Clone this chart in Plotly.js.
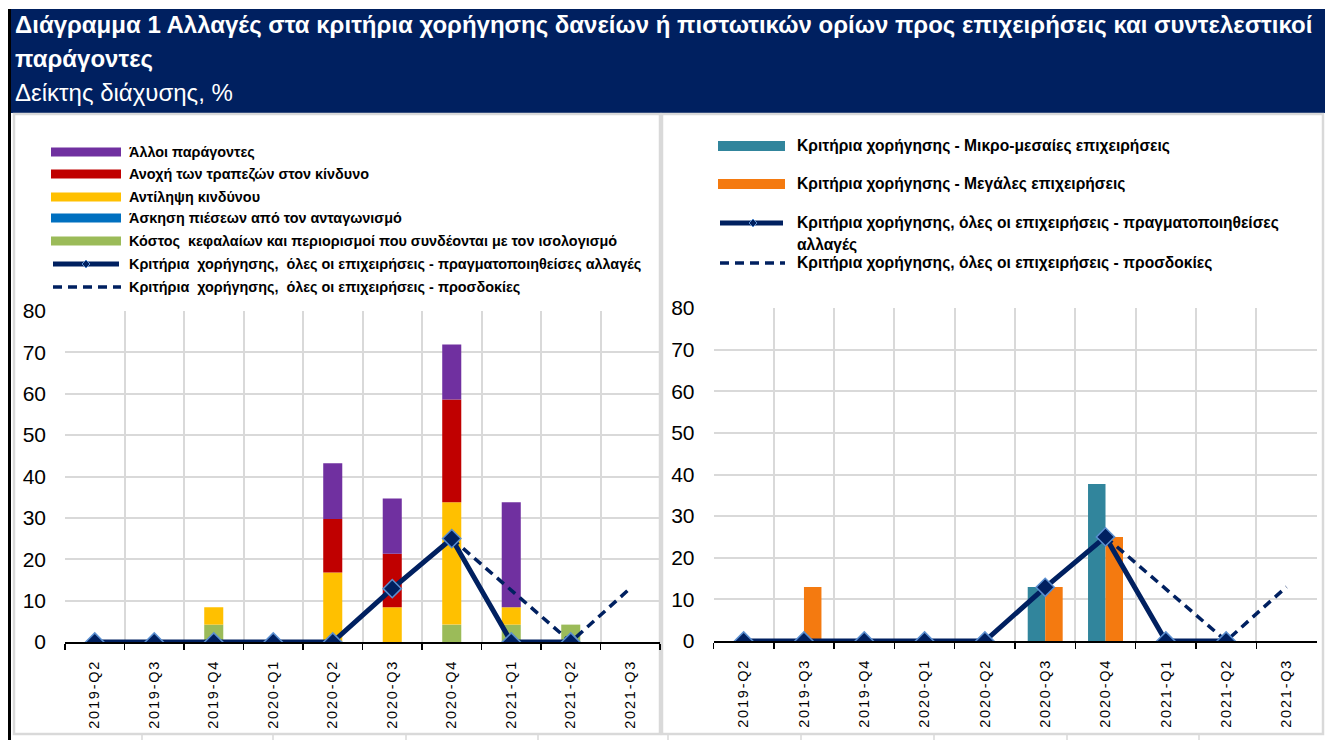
<!DOCTYPE html>
<html>
<head>
<meta charset="utf-8">
<script src="https://cdn.plot.ly/plotly-3.0.1.min.js"></script>
<style>
  html, body { margin: 0; padding: 0; background: #ffffff; }
  #chart { width: 1325px; height: 740px; }
  .xtick text, .x2tick text { letter-spacing: 1.8px; }
</style>
</head>
<body>
<div id="chart"></div>
<script>
// ---------------- DATA ----------------
const categories = ['2019-Q2','2019-Q3','2019-Q4','2020-Q1','2020-Q2','2020-Q3','2020-Q4','2021-Q1','2021-Q2','2021-Q3'];

// Left panel: contributing factors (diffusion index, %)
const costOfFunds      = [0, 0, 4.2, 0, 0,    0,    4.2,  4.2,  4.2, null];
const competition      = [0, 0, 0,   0, 0,    0,    0,    0,    0,   null];
const riskPerception   = [0, 0, 4.2, 0, 16.8, 8.4,  29.6, 4.2,  0,   null];
const riskTolerance    = [0, 0, 0,   0, 12.9, 12.9, 24.8, 0,    0,   null];
const otherFactors     = [0, 0, 0,   0, 13.5, 13.4, 13.3, 25.4, 0,   null];

// Credit standards, all enterprises
const realizedChanges  = [0, 0, 0, 0, 0, 12.9, 25, 0, 0, null];
const expectations     = [null, null, null, null, null, null, 25, 12.5, 0, 13];

// Right panel: by firm size
const smeStandards     = [0, 0,  0, 0, 0, 13, 37.7, 0, 0, null];
const largeStandards   = [0, 13, 0, 0, 0, 13, 25,   0, 0, null];

// Labels
const titleLine1 = 'Διάγραμμα 1 Αλλαγές στα κριτήρια χορήγησης δανείων ή πιστωτικών ορίων προς επιχειρήσεις και συντελεστικοί';
const titleLine2 = 'παράγοντες';
const subtitle   = 'Δείκτης διάχυσης, %';
const nameOther       = 'Άλλοι παράγοντες';
const nameTolerance   = 'Ανοχή των τραπεζών στον κίνδυνο';
const namePerception  = 'Αντίληψη κινδύνου';
const nameCompetition = 'Άσκηση πιέσεων από τον ανταγωνισμό';
const nameCost        = 'Κόστος  κεφαλαίων και περιορισμοί που συνδέονται με τον ισολογισμό';
const nameRealizedL   = 'Κριτήρια  χορήγησης,  όλες οι επιχειρήσεις - πραγματοποιηθείσες αλλαγές';
const nameExpectedL   = 'Κριτήρια  χορήγησης,  όλες οι επιχειρήσεις - προσδοκίες';
const nameSME         = 'Κριτήρια χορήγησης - Μικρο-μεσαίες επιχειρήσεις';
const nameLarge       = 'Κριτήρια χορήγησης - Μεγάλες επιχειρήσεις';
const nameRealizedR1  = 'Κριτήρια χορήγησης, όλες οι επιχειρήσεις - πραγματοποιηθείσες';
const nameRealizedR2  = 'αλλαγές';
const nameExpectedR   = 'Κριτήρια χορήγησης, όλες οι επιχειρήσεις - προσδοκίες';

// ---------------- STYLE ----------------
const C = {
  navy: '#002060', purple: '#7030A0', red: '#C00000', yellow: '#FFC000',
  blue: '#0070C0', green: '#9BBB59', teal: '#31859C', orange: '#F47A10',
  grid: '#D9D9D9', markerEdge: '#5B8FD0'
};
const W = 1325, H = 740;
const PX = p => p / W;
const PY = p => 1 - p / H;
const FONT = '"Liberation Sans", Arial, sans-serif';

// stacked bases for left panel (bottom to top)
const leftStack = [costOfFunds, competition, riskPerception, riskTolerance, otherFactors];
const bases = leftStack.map((arr, k) => arr.map((v, i) => {
  let s = 0; for (let j = 0; j < k; j++) s += (leftStack[j][i] || 0); return s;
}));

const LW = 0.32;   // left bar width (category units)
const RW = 0.29;   // right bar width
function leftBar(arr, k, color, name) {
  return { type: 'bar', x: categories, y: arr, base: bases[k], name: name,
    width: LW, offset: -LW / 2, xaxis: 'x', yaxis: 'y',
    marker: { color: color, line: { width: 0 } }, showlegend: false, hoverinfo: 'y' };
}
function realizedTrace(xa, ya) {
  return { type: 'scatter', mode: 'lines+markers', x: categories, y: realizedChanges,
    xaxis: xa, yaxis: ya, line: { color: C.navy, width: 5 },
    marker: { symbol: 'diamond', size: 14, color: C.navy, line: { color: C.markerEdge, width: 1.5 } },
    showlegend: false, connectgaps: false };
}
function expectedTrace(xa, ya) {
  return { type: 'scatter', mode: 'lines', x: categories, y: expectations,
    xaxis: xa, yaxis: ya, line: { color: C.navy, width: 3.5, dash: '9px,6px' },
    showlegend: false, connectgaps: false };
}

const traces = [
  leftBar(costOfFunds, 0, C.green, nameCost),
  leftBar(competition, 1, C.blue, nameCompetition),
  leftBar(riskPerception, 2, C.yellow, namePerception),
  leftBar(riskTolerance, 3, C.red, nameTolerance),
  leftBar(otherFactors, 4, C.purple, nameOther),
  expectedTrace('x', 'y'),
  realizedTrace('x', 'y'),
  { type: 'bar', x: categories, y: smeStandards, name: nameSME, width: RW, offset: -RW,
    xaxis: 'x2', yaxis: 'y2', marker: { color: C.teal, line: { width: 0 } }, showlegend: false },
  { type: 'bar', x: categories, y: largeStandards, name: nameLarge, width: RW, offset: 0,
    xaxis: 'x2', yaxis: 'y2', marker: { color: C.orange, line: { width: 0 } }, showlegend: false },
  expectedTrace('x2', 'y2'),
  realizedTrace('x2', 'y2')
];

// ---------------- AXES ----------------
function xAxis(domain, anchor) {
  return { domain: domain, anchor: anchor, type: 'category', categoryorder: 'array', categoryarray: categories,
    range: [-0.5, categories.length - 0.5], tickson: 'boundaries',
    showgrid: true, gridcolor: C.grid, gridwidth: 2,
    ticks: 'outside', ticklen: 6, tickwidth: 1.5, tickcolor: '#000',
    showline: true, linecolor: '#000', linewidth: 2,
    tickangle: -90, tickfont: { family: FONT, size: 14.5, color: '#000' },
    ticklabelstandoff: 10, fixedrange: true, zeroline: false };
}
function yAxis(domain, anchor) {
  return { domain: domain, anchor: anchor, range: [0, 80], dtick: 10, tick0: 0,
    showgrid: true, gridcolor: C.grid, gridwidth: 2, zeroline: false, showline: false,
    ticks: '', tickfont: { family: FONT, size: 21, color: '#000' }, ticklabelstandoff: 18,
    fixedrange: true };
}

// ---------------- DECORATION: shapes ----------------
const shapes = [];
function rect(x0, y0, x1, y1, fill, line, lw, layer) {
  shapes.push({ type: 'rect', xref: 'paper', yref: 'paper', x0: PX(x0), x1: PX(x1), y0: PY(y1), y1: PY(y0),
    fillcolor: fill, line: { color: line || 'rgba(0,0,0,0)', width: lw || 0 }, layer: layer || 'below' });
}
function hline(x0, x1, y, color, width, dash) {
  shapes.push({ type: 'line', xref: 'paper', yref: 'paper', x0: PX(x0), x1: PX(x1), y0: PY(y), y1: PY(y),
    line: { color: color, width: width, dash: dash || 'solid' }, layer: 'above' });
}
function diamondPath(cx, cy, r) {
  return 'M' + PX(cx) + ',' + PY(cy - r) + ' L' + PX(cx + r) + ',' + PY(cy) + ' L' + PX(cx) + ',' + PY(cy + r) +
         ' L' + PX(cx - r) + ',' + PY(cy) + ' Z';
}
// header and frames
rect(8, 9, 11, 740, '#000000');
rect(11, 9, 1325, 113, C.navy);
rect(14, 114, 660, 734, '#ffffff', C.grid, 2.5);
rect(662, 114, 1323, 734, '#ffffff', C.grid, 2.5);
[142, 273, 406, 538, 668, 801, 934, 1067, 1199].forEach(x => {
  shapes.push({ type: 'line', xref: 'paper', yref: 'paper', x0: PX(x), x1: PX(x), y0: PY(740), y1: PY(735),
    line: { color: C.grid, width: 1.5 }, layer: 'below' });
});

// ---------------- LEGENDS (custom) ----------------
const annotations = [];
function text(x, y, s, size, bold, color, anchorY) {
  annotations.push({ xref: 'paper', yref: 'paper', x: PX(x), y: PY(y), xanchor: 'left', yanchor: anchorY || 'middle',
    text: bold ? '<b>' + s + '</b>' : s, showarrow: false, align: 'left',
    font: { family: FONT, size: size, color: color || '#000' } });
}
// Left legend
const LFS = 14.4, RFS = 15.6;
const Lrows = [152, 174, 197, 218, 241, 264, 287];
const Lsw = [51, 121], Ltx = 127;
[[C.purple, nameOther], [C.red, nameTolerance], [C.yellow, namePerception], [C.blue, nameCompetition], [C.green, nameCost]]
  .forEach((it, i) => { rect(Lsw[0], Lrows[i] - 4.5, Lsw[1], Lrows[i] + 4.5, it[0], null, 0, 'above'); text(Ltx, Lrows[i], it[1], LFS, true); });
hline(Lsw[0] + 2, Lsw[1] - 2, Lrows[5], C.navy, 5);
shapes.push({ type: 'path', xref: 'paper', yref: 'paper', path: diamondPath(86, Lrows[5], 4), fillcolor: C.navy,
  line: { color: C.markerEdge, width: 1 }, layer: 'above' });
text(Ltx, Lrows[5], nameRealizedL, LFS, true);
hline(Lsw[0] + 2, Lsw[1], Lrows[6], C.navy, 3.5, '9px,6px');
text(Ltx, Lrows[6], nameExpectedL, LFS, true);

// Right legend
const Rsw = [718, 785], Rtx = 795;
rect(Rsw[0], 141, Rsw[1], 151, C.teal, null, 0, 'above'); text(Rtx, 146, nameSME, RFS, true);
rect(Rsw[0], 179, Rsw[1], 189, C.orange, null, 0, 'above'); text(Rtx, 184, nameLarge, RFS, true);
hline(Rsw[0] + 2, Rsw[1] - 2, 223, C.navy, 5);
shapes.push({ type: 'path', xref: 'paper', yref: 'paper', path: diamondPath(753, 223, 4), fillcolor: C.navy,
  line: { color: C.markerEdge, width: 1 }, layer: 'above' });
text(Rtx, 223, nameRealizedR1, RFS, true);
text(Rtx, 245, nameRealizedR2, RFS, true);
hline(Rsw[0] + 2, Rsw[1], 263, C.navy, 3.5, '9px,6px');
text(Rtx, 263, nameExpectedR, RFS, true);

// Titles
text(13, 25, titleLine1, 24, true, '#ffffff');
text(13, 59, titleLine2, 24, true, '#ffffff');
text(13, 92, subtitle, 24, false, '#ffffff');

const layout = {
  width: W, height: H, margin: { l: 0, r: 0, t: 0, b: 0, pad: 0 },
  paper_bgcolor: '#ffffff', plot_bgcolor: 'rgba(0,0,0,0)',
  barmode: 'overlay', showlegend: false, font: { family: FONT },
  xaxis: xAxis([PX(65), PX(660)], 'y'),
  yaxis: yAxis([PY(642), PY(311)], 'x'),
  xaxis2: xAxis([PX(713.5), PX(1316.6)], 'y2'),
  yaxis2: yAxis([PY(641), PY(308)], 'x2'),
  shapes: shapes, annotations: annotations
};

Plotly.newPlot('chart', traces, layout, { displayModeBar: false, staticPlot: true });
</script>
</body>
</html>
